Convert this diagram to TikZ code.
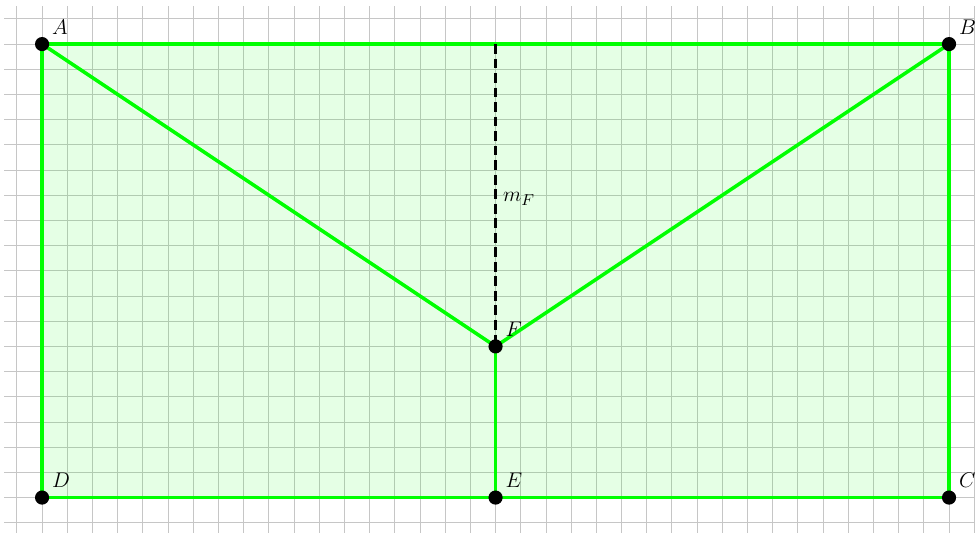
\documentclass[tikz,border=0pt]{standalone}
\usetikzlibrary{calc}

\begin{document}
\begin{tikzpicture}[x=0.5cm,y=0.5cm,
  font=\fontsize{13pt}{15pt}\selectfont,
  pt/.style={circle,fill=black,inner sep=0pt,minimum size=8pt},
  lab/.style={inner sep=2.5pt},
  side/.style={green,line width=2pt}]
\useasboundingbox (-1.67,-1.39) rectangle (37.11,19.75);
% background grid
\draw[gray!45,line width=0.5pt,step=0.5cm] (-1.5,-1.5) grid (37,19.5);
% points
\coordinate (A) at (0,18);
\coordinate (B) at (36,18);
\coordinate (C) at (36,0);
\coordinate (D) at (0,0);
\coordinate (E) at (18,0);
\coordinate (F) at (18,6);
\coordinate (M) at ($(A)!0.5!(B)$);
% region
\fill[green,fill opacity=0.1] (A) -- (B) -- (C) -- (D) -- cycle;
\draw[side] (A) -- (B) -- (C) -- (D) -- cycle;
\draw[side] (A) -- (F) -- (B);
\draw[side] (F) -- (E);
% perpendicular bisector
\draw[black,line width=2pt,dash pattern=on 5.5pt off 2.7pt] (M) -- (F)
  node[midway,right,yshift=-2pt] {$m_F$};
% vertices
\node[pt,label={[lab]above right:$A$}] (nA) at (A) {};
\node[pt,label={[lab]above right:$B$}] (nB) at (B) {};
\node[pt,label={[lab]above right:$C$}] (nC) at (C) {};
\node[pt,label={[lab]above right:$D$}] (nD) at (D) {};
\node[pt,label={[lab]above right:$E$}] (nE) at (E) {};
\node[pt,label={[lab]above right:$F$}] (nF) at (F) {};
\end{tikzpicture}
\end{document}
